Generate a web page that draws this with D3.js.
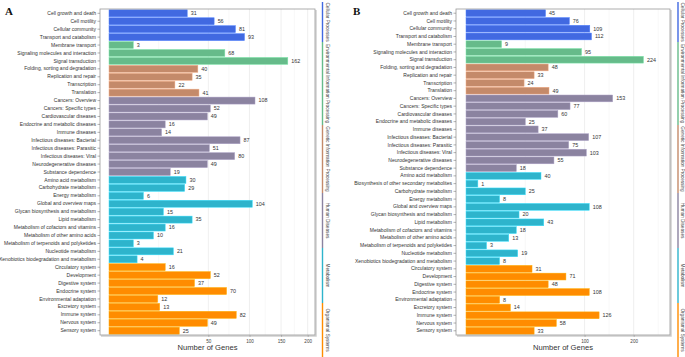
<!DOCTYPE html>
<html>
<head>
<meta charset="utf-8">
<script src="https://cdn.jsdelivr.net/npm/d3@7"></script>
<style>
  html, body { margin: 0; padding: 0; background: #fff; }
  svg { display: block; font-family: "Liberation Sans", Arial, sans-serif; }
</style>
</head>
<body>
<svg id="chart" width="685" height="357"></svg>
<script>
// KEGG level-1 groups, top to bottom
const groupNames = ["Cellular Processes", "Environmental Information Processing",
    "Genetic Information Processing", "Human Diseases", "Metabolism", "Organismal Systems"];
const groupColors = ["#4169e1", "#66bb8a", "#c48a6a", "#8b83a0", "#2eb4cc", "#ff8c00"];

// Panel A
const pathwaysA = [
    "Cell growth and death", "Cell motility", "Cellular community", "Transport and catabolism",
    "Membrane transport", "Signaling molecules and interaction", "Signal transduction",
    "Folding, sorting and degradation", "Replication and repair", "Transcription", "Translation",
    "Cancers: Overview", "Cancers: Specific types", "Cardiovascular diseases",
    "Endocrine and metabolic diseases", "Immune diseases", "Infectious diseases: Bacterial",
    "Infectious diseases: Parasitic", "Infectious diseases: Viral", "Neurodegenerative diseases",
    "Substance dependence",
    "Amino acid metabolism", "Carbohydrate metabolism", "Energy metabolism",
    "Global and overview maps", "Glycan biosynthesis and metabolism", "Lipid metabolism",
    "Metabolism of cofactors and vitamins", "Metabolism of other amino acids",
    "Metabolism of terpenoids and polyketides", "Nucleotide metabolism",
    "Xenobiotics biodegradation and metabolism",
    "Circulatory system", "Development", "Digestive system", "Endocrine system",
    "Environmental adaptation", "Excretory system", "Immune system", "Nervous system", "Sensory system"
];
const groupIdxA = [0,0,0,0, 1,1,1, 2,2,2,2, 3,3,3,3,3,3,3,3,3,3, 4,4,4,4,4,4,4,4,4,4,4, 5,5,5,5,5,5,5,5,5];
const genesA = [31, 56, 81, 93, 3, 68, 162, 40, 35, 22, 41,
    108, 52, 49, 16, 14, 87, 51, 80, 49, 19,
    30, 29, 6, 104, 15, 35, 16, 10, 3, 21, 4,
    16, 52, 37, 70, 12, 13, 82, 49, 25];
const ticksA = [50, 100, 150, 200];

// Panel B
const pathwaysB = [
    "Cell growth and death", "Cell motility", "Cellular community", "Transport and catabolism",
    "Membrane transport", "Signaling molecules and interaction", "Signal transduction",
    "Folding, sorting and degradation", "Replication and repair", "Transcription", "Translation",
    "Cancers: Overview", "Cancers: Specific types", "Cardiovascular diseases",
    "Endocrine and metabolic diseases", "Immune diseases", "Infectious diseases: Bacterial",
    "Infectious diseases: Parasitic", "Infectious diseases: Viral", "Neurodegenerative diseases",
    "Substance dependence",
    "Amino acid metabolism", "Biosynthesis of other secondary metabolites", "Carbohydrate metabolism",
    "Energy metabolism", "Global and overview maps", "Glycan biosynthesis and metabolism",
    "Lipid metabolism", "Metabolism of cofactors and vitamins", "Metabolism of other amino acids",
    "Metabolism of terpenoids and polyketides", "Nucleotide metabolism",
    "Xenobiotics biodegradation and metabolism",
    "Circulatory system", "Development", "Digestive system", "Endocrine system",
    "Environmental adaptation", "Excretory system", "Immune system", "Nervous system", "Sensory system"
];
const groupIdxB = [0,0,0,0, 1,1,1, 2,2,2,2, 3,3,3,3,3,3,3,3,3,3, 4,4,4,4,4,4,4,4,4,4,4,4, 5,5,5,5,5,5,5,5,5];
const genesB = [45, 76, 109, 112, 9, 95, 224, 48, 33, 24, 49,
    153, 77, 60, 25, 37, 107, 75, 103, 55, 18,
    40, 1, 25, 8, 108, 20, 43, 18, 13, 3, 19, 8,
    31, 71, 48, 108, 8, 14, 126, 58, 33];
const ticksB = [100, 200];

// vertical extents of the group strip on the right (px)
const stripBreaks = [2, 42, 125, 193, 248, 303, 357];

const svg = d3.select("#chart");

function drawPanel(p) {
    const g = svg.append("g");
    const rows = p.pathways.map((name, i) => ({ name, value: p.genes[i], grp: p.groups[i] }));

    const y = d3.scaleBand()
        .domain(p.pathways)
        .range([p.top + 0.5, p.bottom - 0.5])
        .paddingInner(0.12)
        .paddingOuter(0.04);

    const x = d3.scaleSqrt()
        .domain([0, p.max])
        .range([p.zero, p.right]);

    // minor grid (midpoints in sqrt space) and major grid
    const majors = [0].concat(p.ticks);
    const minors = [];
    for (let i = 0; i < majors.length; i++) {
        const a = Math.sqrt(majors[i]);
        const b = i + 1 < majors.length ? Math.sqrt(majors[i + 1]) : a + (a - Math.sqrt(majors[i - 1]));
        const m = Math.pow((a + b) / 2, 2);
        if (m <= p.max) minors.push(m);
    }
    g.selectAll(".minor").data(minors).enter().append("line")
        .attr("x1", d => x(d)).attr("x2", d => x(d))
        .attr("y1", p.top).attr("y2", p.bottom)
        .attr("stroke", "#f3f3f3").attr("stroke-width", 0.6);
    g.selectAll(".major").data(p.ticks).enter().append("line")
        .attr("x1", d => x(d)).attr("x2", d => x(d))
        .attr("y1", p.top).attr("y2", p.bottom)
        .attr("stroke", "#ebebeb").attr("stroke-width", 0.8);

    // bars
    g.selectAll(".bar").data(rows).enter().append("rect")
        .attr("x", x(0))
        .attr("y", d => y(d.name))
        .attr("width", d => x(d.value) - x(0))
        .attr("height", y.bandwidth())
        .attr("fill", d => groupColors[d.grp])
        .attr("stroke", d => d3.color(groupColors[d.grp]).brighter(0.6))
        .attr("stroke-width", 0.5);

    // value labels
    g.selectAll(".val").data(rows).enter().append("text")
        .attr("x", d => x(d.value) + 3.5)
        .attr("y", d => y(d.name) + y.bandwidth() / 2)
        .attr("dy", "0.35em")
        .style("font-size", "5.4px")
        .style("fill", "#333")
        .text(d => d.value);

    // frame with soft shadow on bottom/right
    g.append("path")
        .attr("d", `M${p.left + 1},${p.bottom + 1}H${p.right + 1}V${p.top + 1}`)
        .attr("fill", "none").attr("stroke", "#cfcfcf").attr("stroke-width", 1.5);
    g.append("rect")
        .attr("x", p.left).attr("y", p.top)
        .attr("width", p.right - p.left).attr("height", p.bottom - p.top)
        .attr("fill", "none").attr("stroke", "#9a9a9a").attr("stroke-width", 0.8);

    // left axis
    const ya = g.append("g")
        .attr("transform", `translate(${p.left},0)`)
        .call(d3.axisLeft(y).tickSize(2.5).tickPadding(1.5));
    ya.select(".domain").remove();
    ya.selectAll("line").attr("stroke", "#666").attr("stroke-width", 0.5);
    ya.selectAll("text").style("font-size", "5px").style("fill", "#333")
        .style("font-family", "Liberation Sans, Arial, sans-serif");

    // bottom axis
    const xa = g.append("g")
        .attr("transform", `translate(0,${p.bottom})`)
        .call(d3.axisBottom(x).tickValues(p.ticks).tickSize(2).tickPadding(2.5));
    xa.select(".domain").remove();
    xa.selectAll("line").attr("stroke", "#888").attr("stroke-width", 0.5);
    xa.selectAll("text").style("font-size", "4.6px").style("fill", "#444")
        .style("font-family", "Liberation Sans, Arial, sans-serif");

    // axis title
    g.append("text")
        .attr("x", (p.left + p.right) / 2)
        .attr("y", 349.5)
        .attr("text-anchor", "middle")
        .style("font-size", "7.6px")
        .style("fill", "#333")
        .text("Number of Genes");

    // panel letter
    g.append("text")
        .attr("x", p.letterX)
        .attr("y", 14.5)
        .style("font-family", "Liberation Serif, 'Times New Roman', serif")
        .style("font-weight", "bold")
        .style("font-size", "11px")
        .style("fill", "#111")
        .text(p.letter);

    // group strip on the right
    groupNames.forEach((name, i) => {
        const y0 = stripBreaks[i], y1 = stripBreaks[i + 1];
        g.append("line")
            .attr("x1", p.stripX).attr("x2", p.stripX)
            .attr("y1", y0).attr("y2", y1)
            .attr("stroke", groupColors[i]).attr("stroke-width", 1.4);
        g.append("text")
            .attr("transform", `translate(${p.stripX + 3},${(y0 + y1) / 2}) rotate(90)`)
            .attr("text-anchor", "middle")
            .style("font-size", "4.7px")
            .style("fill", "#444")
            .text(name);
    });
}

drawPanel({
    letter: "A", letterX: 5,
    pathways: pathwaysA, genes: genesA, groups: groupIdxA, ticks: ticksA,
    left: 100, right: 315, top: 9, bottom: 335, zero: 109, max: 215, stripX: 322.5
});

drawPanel({
    letter: "B", letterX: 353,
    pathways: pathwaysB, genes: genesB, groups: groupIdxB, ticks: ticksB,
    left: 456, right: 670, top: 9, bottom: 335, zero: 466, max: 296, stripX: 678
});
</script>
</body>
</html>
